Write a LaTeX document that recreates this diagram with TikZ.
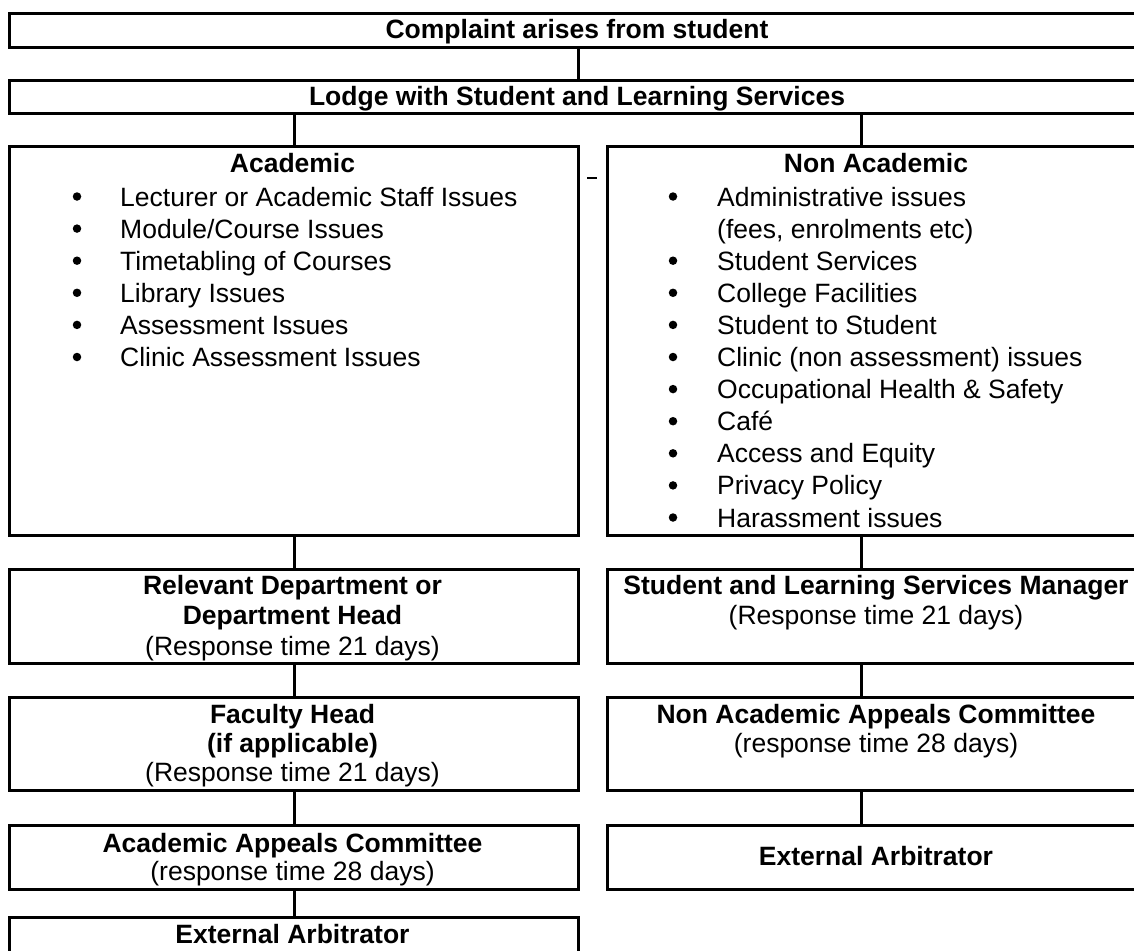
\documentclass[tikz,border=0pt]{standalone}
\usepackage{fontspec}
\setmainfont{Liberation Sans}
\begin{document}
\begin{tikzpicture}[x=1pt,y=-1pt,
  box/.style={draw, line width=3pt, rectangle, inner sep=0pt, anchor=north west},
  conn/.style={line width=3pt},
  bt/.style={font=\fontsize{26.5pt}{30pt}\selectfont\bfseries, anchor=base, inner sep=0pt},
  nt/.style={font=\fontsize{26.5pt}{30pt}\selectfont, anchor=base, inner sep=0pt},
  itm/.style={font=\fontsize{26.5pt}{30pt}\selectfont, anchor=base west, inner sep=0pt},
  bul/.style={fill=black, circle, inner sep=0pt, minimum size=8.5pt}
]
\useasboundingbox (0,0) rectangle (1134,950);
\clip (0,0) rectangle (1134,950);

% boxes
\node[box, minimum width=1138pt, minimum height=34pt] (b1) at (8,12) {};
\node[box, minimum width=1138pt, minimum height=33pt] (b2) at (8,79) {};
\node[box, minimum width=569pt, minimum height=389pt] (acad) at (8,145) {};
\node[box, minimum width=540pt, minimum height=389pt] (na) at (606,145) {};
\node[box, minimum width=569pt, minimum height=94pt] (rd) at (8,568) {};
\node[box, minimum width=540pt, minimum height=94pt] (slsm) at (606,568) {};
\node[box, minimum width=569pt, minimum height=93pt] (fh) at (8,696) {};
\node[box, minimum width=540pt, minimum height=93pt] (naac) at (606,696) {};
\node[box, minimum width=569pt, minimum height=64pt] (aac) at (8,824) {};
\node[box, minimum width=540pt, minimum height=64pt] (ear) at (606,824) {};
\node[box, minimum width=569pt, minimum height=80pt] (eal) at (8,916) {};

% connectors
\draw[conn] (b1.south) -- (b2.north);
\draw[conn] (acad.north) -- (acad.north |- b2.south);
\draw[conn] ([xshift=-16pt]na.north) -- ([xshift=-16pt]na.north |- b2.south);
\draw[conn] (acad.south) -- (rd.north);
\draw[conn] ([xshift=-16pt]na.south) -- ([xshift=-16pt]slsm.north);
\draw[conn] (rd.south) -- (fh.north);
\draw[conn] ([xshift=-16pt]slsm.south) -- ([xshift=-16pt]naac.north);
\draw[conn] (fh.south) -- (aac.north);
\draw[conn] ([xshift=-16pt]naac.south) -- ([xshift=-16pt]ear.north);
\draw[conn] (aac.south) -- (eal.north);

% stray dash
\coordinate (d1) at (587,178);
\coordinate (d2) at (597,178);
\draw[line width=2.5pt] (d1) -- (d2);

% titles
\node[bt] (t1) at (577,38) {Complaint arises from student};
\node[bt] (t2) at (577,105) {Lodge with Student and Learning Services};
\node[bt] (tacad) at (292.5,172) {Academic};
\node[bt] (tna) at (876,172) {Non Academic};

% academic list
\node[itm] (a1) at (120,206) {Lecturer or Academic Staff Issues};
\node[itm] (a2) at (120,238.1) {Module/Course Issues};
\node[itm] (a3) at (120,270.2) {Timetabling of Courses};
\node[itm] (a4) at (120,302.3) {Library Issues};
\node[itm] (a5) at (120,334.4) {Assessment Issues};
\node[itm] (a6) at (120,366.5) {Clinic Assessment Issues};
\foreach \y [count=\i] in {206,238.1,270.2,302.3,334.4,366.5}
  \node[bul] (ab\i) at (77,\y-9.5) {};

% non academic list
\node[itm] (n1) at (717,206) {Administrative issues};
\node[itm] (n1b) at (717,238.1) {(fees, enrolments etc)};
\node[itm] (n2) at (717,270.2) {Student Services};
\node[itm] (n3) at (717,302.3) {College Facilities};
\node[itm] (n4) at (717,334.4) {Student to Student};
\node[itm] (n5) at (717,366.5) {Clinic (non assessment) issues};
\node[itm] (n6) at (717,398.6) {Occupational Health \& Safety};
\node[itm] (n7) at (717,430.7) {Café};
\node[itm] (n8) at (717,462.8) {Access and Equity};
\node[itm] (n9) at (717,494.9) {Privacy Policy};
\node[itm] (n10) at (717,527) {Harassment issues};
\foreach \y [count=\i] in {206,270.2,302.3,334.4,366.5,398.6,430.7,462.8,494.9,527}
  \node[bul] (nb\i) at (673,\y-9.5) {};

% left column texts
\node[bt] (rd1) at (292.5,594) {Relevant Department or};
\node[bt] (rd2) at (292.5,624.5) {Department Head};
\node[nt] (rd3) at (292.5,655) {(Response time 21 days)};
\node[bt] (fh1) at (292.5,723) {Faculty Head};
\node[bt] (fh2) at (292.5,752) {(if applicable)};
\node[nt] (fh3) at (292.5,781) {(Response time 21 days)};
\node[bt] (aac1) at (292.5,852) {Academic Appeals Committee};
\node[nt] (aac2) at (292.5,880) {(response time 28 days)};
\node[bt] (eal1) at (292.5,943) {External Arbitrator};

% right column texts
\node[bt] (sl1) at (876,594) {Student and Learning Services Manager};
\node[nt] (sl2) at (876,624.5) {(Response time 21 days)};
\node[bt] (nc1) at (876,723) {Non Academic Appeals Committee};
\node[nt] (nc2) at (876,752) {(response time 28 days)};
\node[bt] (er1) at (876,865) {External Arbitrator};
\end{tikzpicture}
\end{document}
